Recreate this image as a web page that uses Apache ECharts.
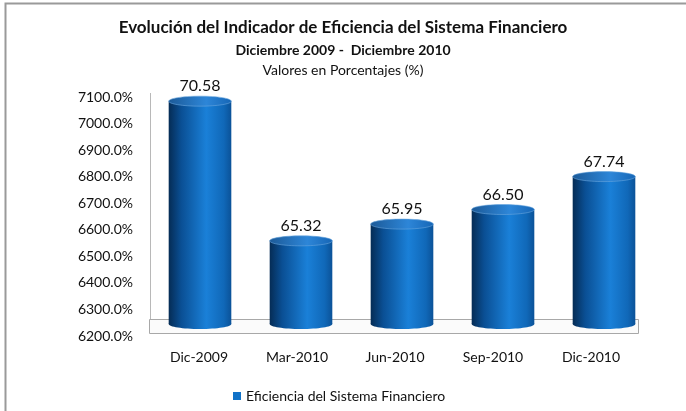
<!DOCTYPE html>
<html><head><meta charset="utf-8">
<script src="https://cdn.jsdelivr.net/npm/echarts@6/dist/echarts.min.js"></script>
<style>html,body{margin:0;padding:0;background:#fff}#c{width:686px;height:411px}</style>
</head><body><div id="c"></div>
<script>
const categories = ['Dic-2009', 'Mar-2010', 'Jun-2010', 'Sep-2010', 'Dic-2010'];
const values = [70.58, 65.32, 65.95, 66.50, 67.74];
const yMin = 62, yMax = 71, yStep = 1;
const seriesName = 'Eficiencia del Sistema Financiero';
const titleLines = ['Evolución del Indicador de Eficiencia del Sistema Financiero', 'Diciembre 2009 -  Diciembre 2010', 'Valores en Porcentajes (%)'];

const FONT = 'Lato, "Liberation Sans", sans-serif';
const chart = echarts.init(document.getElementById('c'), null, {renderer: 'canvas'});

function renderItem(params, api) {
  const idx = api.value(0), v = api.value(1);
  const top = api.coord([idx, v]);
  const base = api.coord([idx, yMin]);
  const w = api.size([1, 0])[0] * 0.62;
  const rx = w / 2, ry = 5;
  const bodyTop = top[1], bodyBottom = base[1] - ry;
  const side = new echarts.graphic.LinearGradient(0, 0, 1, 0, [
    {offset: 0, color: '#052c55'}, {offset: 0.2, color: '#0a4f94'},
    {offset: 0.6, color: '#1a80d8'}, {offset: 0.88, color: '#1068b8'}, {offset: 1, color: '#0b5298'}]);
  const cap = new echarts.graphic.LinearGradient(0, 0, 1, 0, [
    {offset: 0, color: '#1c5a98'}, {offset: 0.6, color: '#2d86d8'}, {offset: 1, color: '#1666b6'}]);
  return {type: 'group', children: [
    {type: 'rect', shape: {x: top[0] - rx, y: bodyTop, width: w, height: bodyBottom - bodyTop}, style: {fill: side}},
    {type: 'ellipse', shape: {cx: top[0], cy: bodyBottom, rx: rx, ry: ry}, style: {fill: side}},
    {type: 'ellipse', shape: {cx: top[0], cy: bodyTop, rx: rx, ry: ry}, style: {fill: cap, stroke: '#6aa6dd', lineWidth: 0.6}},
    {type: 'text', style: {text: v.toFixed(2), x: top[0], y: bodyTop - ry - 2, align: 'center', verticalAlign: 'bottom', font: '16px ' + FONT, fill: '#111'}}
  ]};
}

const option = {
  animation: false,
  backgroundColor: '#fff',
  title: [
    {text: titleLines[0], left: 'center', top: 14, textStyle: {fontFamily: FONT, fontSize: 17, fontWeight: 'bold', color: '#111'}},
    {text: titleLines[1], left: 'center', top: 38, textStyle: {fontFamily: FONT, fontSize: 14, fontWeight: 'bold', color: '#111'}},
    {text: titleLines[2], left: 'center', top: 58, textStyle: {fontFamily: FONT, fontSize: 14, fontWeight: 'normal', color: '#111'}}
  ],
  legend: {
    data: [{name: seriesName, icon: 'rect'}], left: 228, top: 384, itemWidth: 8, itemHeight: 8,
    textStyle: {fontFamily: FONT, fontSize: 14, color: '#111'}
  },
  grid: [
    {left: 150, top: 90, width: 490, height: 239},
    {left: 149.5, top: 90, width: 505, height: 239}
  ],
  xAxis: [
    {type: 'category', gridIndex: 0, data: categories, axisLine: {show: false}, axisTick: {show: false},
     axisLabel: {margin: 21, fontFamily: FONT, fontSize: 14, color: '#111'}},
    {type: 'category', gridIndex: 1, data: categories, show: false}
  ],
  yAxis: [
    {type: 'value', gridIndex: 0, min: yMin, max: yMax, interval: yStep, splitLine: {show: false},
     axisLine: {show: false}, axisTick: {show: false},
     axisLabel: {margin: 17, verticalAlign: 'top', fontFamily: FONT, fontSize: 14, color: '#111',
       formatter: v => (v * 100).toFixed(1) + '%'}},
    {type: 'value', gridIndex: 1, min: yMin, max: yMax, interval: yStep, show: false}
  ],
  graphic: [
    {type: 'polyline', z: 0, shape: {points: [[5.5, 411], [5.5, 3.5], [686, 3.5]]}, style: {stroke: '#9a9a9a', lineWidth: 2, fill: null}},
    {type: 'line', z: 0, shape: {x1: 150.5, y1: 93, x2: 150.5, y2: 320}, style: {stroke: '#b8b8b8', lineWidth: 1}},
    {type: 'rect', z: 0, shape: {x: 149.5, y: 319.5, width: 489, height: 14}, style: {fill: '#fbfbfb', stroke: '#a8a8a8', lineWidth: 1}}
  ],
  series: [{
    type: 'custom', name: seriesName, xAxisIndex: 1, yAxisIndex: 1, z: 3,
    itemStyle: {color: '#1072c8'},
    renderItem: renderItem,
    encode: {x: 0, y: 1},
    data: values.map((v, i) => [i, v])
  }]
};
chart.setOption(option);
</script></body></html>
